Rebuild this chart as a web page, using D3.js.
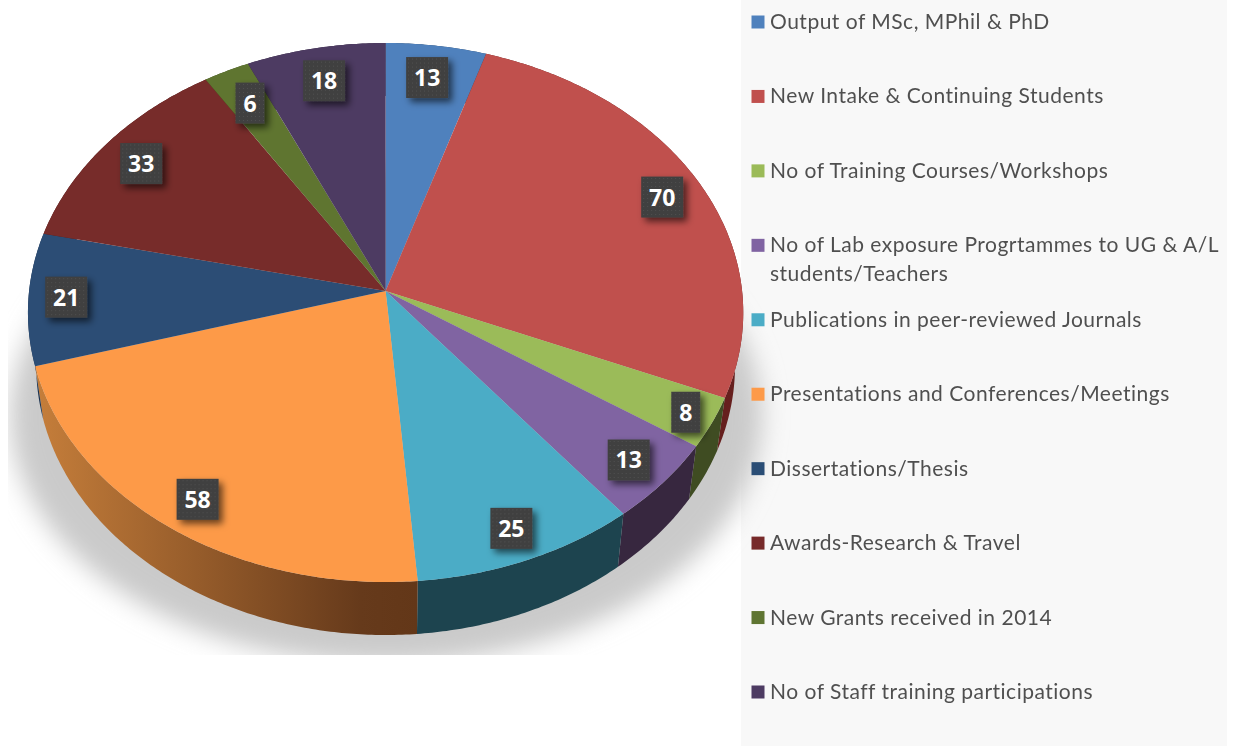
<!DOCTYPE html>
<html>
<head>
<meta charset="utf-8">
<script src="https://cdn.jsdelivr.net/npm/d3@7"></script>
<style>
  html, body { margin: 0; padding: 0; background: #fff; }
  svg { display: block; }
</style>
</head>
<body>
<svg></svg>
<script>
// =============================================== DATA ===============================================
const categories = [
  "Output of MSc, MPhil & PhD",
  "New Intake & Continuing Students",
  "No of Training Courses/Workshops",
  "No of Lab exposure Progrtammes to UG & A/L|students/Teachers",
  "Publications in peer-reviewed Journals",
  "Presentations and Conferences/Meetings",
  "Dissertations/Thesis",
  "Awards-Research & Travel",
  "New Grants received in 2014",
  "No of Staff training participations"
];
const values = [13, 70, 8, 13, 25, 58, 21, 33, 6, 18];
const topColors = ["#4f81bd", "#c0504d", "#9bbb59", "#8064a2", "#4bacc6", "#fd9a48", "#2c4d75", "#772c2a", "#5f7530", "#4d3b62"];
const sideColors = ["#2a4565", "#661f1e", "#3f4c22", "#37273f", "#1d444f", "url(#orangeSide)", "#1c3350", "#4f1d1c", "#3d4b1f", "#32263f"];
// ====================================================================================================

var width = 1233;
var height = 746;

var svg = d3.select("svg").attr("width", width).attr("height", height);
var defs = svg.append("defs");

// tilted disc: unit circle -> screen with a little perspective
var cx = 385.6, cy = 291;
var rx = 356.5, ry = 267.8, persp = 0.0798;
var depth = 53, depthScale = 0.977;

function project(angle, r) {
  var u = r * Math.sin(angle), v = -r * Math.cos(angle);
  var w = 1 - persp * v;
  return [cx + rx * u / w, cy + ry * v / w];
}
function projectLow(angle) {
  var p = project(angle, 1);
  return [cx + (p[0] - cx) * depthScale, p[1] + depth];
}
function arcAngles(a0, a1) {
  var n = Math.max(2, Math.ceil((a1 - a0) / 0.01));
  return d3.range(n + 1).map(i => a0 + (a1 - a0) * i / n);
}

const slices = d3.pie().sort(null).value(d => d)(values);
var line = d3.line();

// ============================================ DEFS ==================================================
var grad = defs.append("linearGradient").attr("id", "orangeSide")
  .attr("gradientUnits", "userSpaceOnUse")
  .attr("x1", 40).attr("x2", 417).attr("y1", 0).attr("y2", 0);
grad.append("stop").attr("offset", "0").attr("stop-color", "#c47d3a");
grad.append("stop").attr("offset", "0.85").attr("stop-color", "#663a1b");
grad.append("stop").attr("offset", "1").attr("stop-color", "#633718");

defs.append("filter").attr("id", "shadowBlur")
  .attr("x", "-10%").attr("y", "-10%").attr("width", "120%").attr("height", "120%")
  .append("feGaussianBlur").attr("stdDeviation", 12);

var boxShadow = defs.append("filter").attr("id", "boxShadow")
  .attr("x", "-40%").attr("y", "-40%").attr("width", "190%").attr("height", "190%");
boxShadow.append("feDropShadow").attr("dx", 4).attr("dy", 4).attr("stdDeviation", 3.5)
  .attr("flood-color", "#000").attr("flood-opacity", 0.6);

var dots = defs.append("pattern").attr("id", "dots").attr("patternUnits", "userSpaceOnUse")
  .attr("width", 4).attr("height", 4);
dots.append("rect").attr("width", 4).attr("height", 4).attr("fill", "#404040");
dots.append("rect").attr("x", 1).attr("y", 1).attr("width", 1).attr("height", 1).attr("fill", "#515151");

defs.append("clipPath").attr("id", "shadowClip")
  .append("rect").attr("x", 8).attr("y", 0).attr("width", width).attr("height", 655);

defs.append("filter").attr("id", "soft")
  .append("feGaussianBlur").attr("stdDeviation", 0.35);

// ========================================= LEGEND PANEL =============================================
svg.append("rect").attr("x", 741).attr("y", 0).attr("width", 486).attr("height", height).attr("fill", "#f8f8f8");

// ============================================ SHADOW ================================================
svg.append("g").attr("clip-path", "url(#shadowClip)")
  .append("ellipse")
  .attr("cx", 386).attr("cy", 416).attr("rx", 376).attr("ry", 248)
  .attr("fill", "#cacaca")
  .attr("filter", "url(#shadowBlur)");

// ============================================= PIE ==================================================
// side walls first, the top face sits over whatever should be hidden
svg.append("g").selectAll("path")
  .data(slices)
  .enter()
  .append("path")
  .attr("d", function(d) {
    var a = arcAngles(d.startAngle, d.endAngle);
    var pts = a.map(t => project(t, 1)).concat(a.slice().reverse().map(projectLow));
    return line(pts) + "Z";
  })
  .attr("fill", (d, i) => sideColors[i]);

svg.append("g").selectAll("path")
  .data(slices)
  .enter()
  .append("path")
  .attr("d", function(d) {
    var pts = [[cx, cy]].concat(arcAngles(d.startAngle, d.endAngle).map(t => project(t, 1)));
    return line(pts) + "Z";
  })
  .attr("fill", (d, i) => topColors[i]);

// ============================================ LABELS ================================================
// labels sit at 0.87 of the radius, the chart had a few of them dragged by hand
var labelNudge = [[-3, 0], [3, -1], [-1, -2], [3, 2], [3, 4], [-1, 3], [2, -3], [0, -1], [4, 3], [0, 1]];
var labelFrac = d3.scaleOrdinal().domain([2, 6]).range([0.925, 0.9]).unknown(0.87);

var labels = svg.append("g").selectAll("g")
  .data(slices)
  .enter()
  .append("g")
  .attr("transform", function(d, i) {
    var p = project((d.startAngle + d.endAngle) / 2, labelFrac(i));
    return "translate(" + (p[0] + labelNudge[i][0]) + "," + (p[1] + 2 + labelNudge[i][1]) + ")";
  });

labels.append("rect")
  .attr("x", d => d.value < 10 ? -14.5 : -21)
  .attr("y", -20.5)
  .attr("width", d => d.value < 10 ? 29 : 42)
  .attr("height", 41)
  .attr("fill", "url(#dots)")
  .attr("filter", "url(#boxShadow)");

labels.append("text")
  .attr("text-anchor", "middle")
  .attr("y", 8.5)
  .attr("font-family", "'Open Sans', sans-serif")
  .attr("font-weight", 700)
  .attr("font-size", 23)
  .attr("fill", "#fff")
  .text(d => d.value);

// ============================================ LEGEND ================================================
var legendY = d3.scalePoint().domain(categories).range([22, 692]);

var legend = svg.append("g").attr("filter", "url(#soft)").selectAll("g")
  .data(categories)
  .enter()
  .append("g")
  .attr("transform", d => "translate(751," + legendY(d) + ")");

legend.append("rect")
  .attr("x", 0.5).attr("y", -6.5)
  .attr("width", 13).attr("height", 13)
  .attr("fill", (d, i) => topColors[i]);

legend.each(function(d) {
  var g = d3.select(this);
  d.split("|").forEach(function(t, j) {
    g.append("text")
      .attr("x", 19)
      .attr("y", 7 + j * 29)
      .attr("font-family", "Lato, sans-serif")
      .attr("font-size", 21)
      .attr("letter-spacing", 0.5)
      .attr("fill", "#505050")
      .text(t);
  });
});
</script>
</body>
</html>
